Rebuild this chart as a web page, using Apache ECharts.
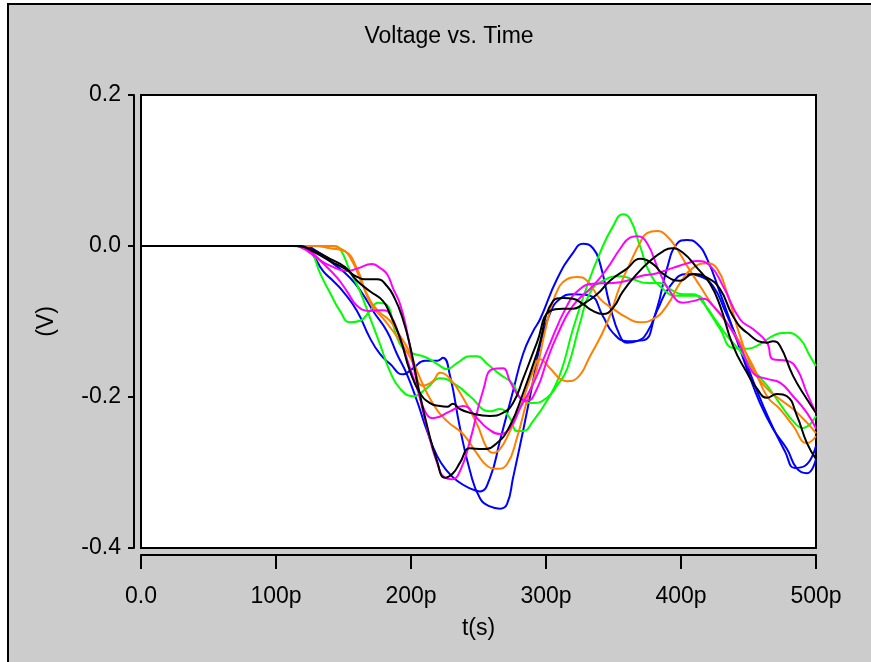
<!DOCTYPE html>
<html>
<head>
<meta charset="utf-8">
<script src="https://cdn.jsdelivr.net/npm/echarts@6/dist/echarts.min.js"></script>
<style>
html,body{margin:0;padding:0;background:#ffffff;}
#chart{width:871px;height:662px;}
</style>
</head>
<body>
<div id="chart"></div>
<script>
// Time axis (ps) and voltage (V)
const xTicks = [0, 100, 200, 300, 400, 500];
const yTicks = [-0.4, -0.2, 0.0, 0.2];

const blueA = [[0,0],[117,0],[125.2,-0.007],[134.8,-0.033],[142.2,-0.046],[149.6,-0.060],[160,-0.086],[169.6,-0.122],[177,-0.143],[184.4,-0.156],[194.1,-0.170],[201.5,-0.162],[210.4,-0.152],[219.3,-0.152],[223.7,-0.148],[228.9,-0.172],[236.3,-0.241],[243.7,-0.298],[251.1,-0.334],[258.5,-0.345],[265.9,-0.348],[271.1,-0.342],[275.6,-0.307],[283,-0.245],[290.4,-0.179],[295.6,-0.132],[303,-0.089],[310.4,-0.070],[320,-0.064],[332.6,-0.066],[342.2,-0.093],[349.6,-0.115],[360,-0.126],[371.9,-0.125],[382.2,-0.086],[391.9,-0.053],[404.4,-0.037],[414.1,-0.040],[423.7,-0.053],[432.6,-0.086],[443.7,-0.132],[454.8,-0.185],[465.9,-0.232],[477,-0.272],[484.4,-0.294],[491.9,-0.291],[500,-0.265]];
const blueB = [[0,0],[120,0],[130.4,-0.007],[142.2,-0.023],[154.8,-0.042],[164.4,-0.064],[171.9,-0.086],[182.2,-0.113],[189.6,-0.143],[197,-0.170],[204.4,-0.205],[211.9,-0.245],[219.3,-0.278],[226.7,-0.298],[234.1,-0.311],[243.7,-0.321],[251.1,-0.325],[258.5,-0.307],[265.9,-0.258],[275.6,-0.192],[283,-0.143],[290.4,-0.113],[295.6,-0.097],[308.1,-0.044],[320,-0.009],[327.4,0.003],[334.8,-0.003],[340,-0.023],[347.4,-0.079],[354.8,-0.119],[360,-0.128],[367.4,-0.126],[374.8,-0.115],[382.2,-0.083],[389.6,-0.030],[397,0.003],[404.4,0.008],[411.9,0.003],[419.3,-0.017],[428.9,-0.062],[438.5,-0.110],[448.9,-0.163],[458.5,-0.208],[468.1,-0.242],[478.5,-0.269],[485.9,-0.295],[493.3,-0.301],[500,-0.282]];
const greenA = [[0,0],[118,0],[121.5,-0.001],[126.7,-0.009],[132.6,-0.036],[140,-0.062],[147.4,-0.086],[154.8,-0.101],[162.2,-0.099],[169.6,-0.086],[175.6,-0.075],[182.2,-0.078],[188.1,-0.113],[194.1,-0.136],[200.7,-0.142],[210.4,-0.147],[219.3,-0.156],[226.7,-0.163],[234.1,-0.155],[243.7,-0.146],[248.9,-0.146],[256.3,-0.156],[265.9,-0.170],[275.6,-0.183],[280.7,-0.201],[290.4,-0.208],[300.7,-0.201],[308.1,-0.185],[315.6,-0.163],[325.2,-0.102],[332.6,-0.062],[342.2,-0.046],[354.8,-0.040],[364.4,-0.044],[374.8,-0.049],[384.4,-0.049],[391.9,-0.057],[401.5,-0.064],[408.9,-0.064],[416.3,-0.075],[423.7,-0.093],[434.1,-0.119],[443.7,-0.139],[453.3,-0.163],[463.7,-0.185],[473.3,-0.209],[483,-0.232],[490.4,-0.241],[500,-0.225]];
const greenB = [[0,0],[128,0],[142.2,0],[147.4,-0.004],[154.8,-0.033],[162.2,-0.060],[169.6,-0.095],[177,-0.130],[184.4,-0.166],[191.9,-0.189],[201.5,-0.199],[211.9,-0.188],[221.5,-0.175],[234.1,-0.185],[243.7,-0.199],[258.5,-0.219],[265.9,-0.216],[273.3,-0.228],[278.5,-0.245],[283,-0.245],[290.4,-0.232],[300.7,-0.205],[310.4,-0.170],[320,-0.110],[330.4,-0.053],[340,-0.009],[349.6,0.026],[357,0.042],[362.2,0.036],[369.6,0.000],[377,-0.036],[386.7,-0.057],[397,-0.066],[411.9,-0.066],[419.3,-0.083],[428.9,-0.110],[438.5,-0.135],[448.9,-0.136],[458.5,-0.130],[468.1,-0.119],[478.5,-0.115],[488.1,-0.123],[495.6,-0.146],[500,-0.159]];
const orangeA = [[0,0],[140,0],[147.4,-0.003],[154.8,-0.015],[164.4,-0.053],[171.1,-0.079],[180.7,-0.099],[191.9,-0.126],[200.7,-0.152],[208.9,-0.185],[216.3,-0.179],[221.5,-0.168],[228.9,-0.176],[238.5,-0.201],[248.9,-0.236],[256.3,-0.268],[260.7,-0.274],[265.9,-0.269],[273.3,-0.245],[280.7,-0.215],[290.4,-0.166],[295.6,-0.150],[303,-0.162],[310.4,-0.176],[315.6,-0.179],[323,-0.175],[332.6,-0.146],[345.2,-0.102],[354.8,-0.053],[362.2,-0.023],[369.6,0.004],[374.8,0.017],[382.2,0.020],[389.6,0.013],[397,-0.004],[404.4,-0.026],[414.1,-0.053],[423.7,-0.079],[434.1,-0.102],[443.7,-0.128],[453.3,-0.159],[463.7,-0.199],[473.3,-0.216],[483,-0.238],[493.3,-0.261],[500,-0.252]];
const orangeB = [[0,0],[128,0],[140,-0.003],[151.1,-0.007],[160,-0.030],[167.4,-0.064],[175.6,-0.086],[184.4,-0.099],[191.9,-0.119],[199.3,-0.142],[206.7,-0.175],[216.3,-0.209],[226.7,-0.232],[238.5,-0.249],[248.9,-0.275],[256.3,-0.291],[263.7,-0.295],[271.1,-0.289],[278.5,-0.254],[285.9,-0.205],[293.3,-0.162],[299.3,-0.113],[306.7,-0.066],[315.6,-0.044],[323,-0.041],[330.4,-0.046],[340,-0.070],[349.6,-0.083],[360,-0.095],[369.6,-0.101],[379.3,-0.097],[389.6,-0.079],[399.3,-0.049],[408.9,-0.029],[419.3,-0.023],[426.7,-0.030],[434.1,-0.062],[443.7,-0.119],[453.3,-0.163],[463.7,-0.189],[473.3,-0.203],[483,-0.216],[493.3,-0.234],[500,-0.248]];
const magentaA = [[0,0],[112,0],[120,-0.003],[130.4,-0.016],[140,-0.026],[152.6,-0.033],[160,-0.030],[171.1,-0.024],[177,-0.029],[182.2,-0.037],[186.7,-0.056],[191.9,-0.077],[197,-0.113],[201.5,-0.156],[206.7,-0.201],[211.9,-0.241],[219.3,-0.287],[225.2,-0.307],[230.4,-0.309],[236.3,-0.298],[243.7,-0.258],[253.3,-0.192],[260.7,-0.163],[268.1,-0.162],[273.3,-0.179],[280.7,-0.201],[285.9,-0.205],[293.3,-0.189],[300.7,-0.152],[308.1,-0.119],[320,-0.079],[334.8,-0.053],[345.2,-0.030],[354.8,-0.004],[362.2,0.011],[367.4,0.013],[374.8,0.004],[384.4,-0.036],[394.1,-0.066],[401.5,-0.075],[408.9,-0.073],[416.3,-0.070],[423.7,-0.079],[434.1,-0.102],[443.7,-0.132],[453.3,-0.168],[463.7,-0.176],[473.3,-0.181],[483,-0.199],[493.3,-0.221],[500,-0.242]];
const magentaB = [[0,0],[116,0],[125.2,-0.007],[134.8,-0.023],[145.2,-0.042],[152.6,-0.060],[160,-0.079],[169.6,-0.086],[179.3,-0.085],[184.4,-0.090],[191.9,-0.122],[199.3,-0.162],[204.4,-0.188],[210.4,-0.219],[216.3,-0.228],[228.9,-0.219],[238.5,-0.212],[248.9,-0.228],[256.3,-0.241],[265.9,-0.249],[273.3,-0.241],[280.7,-0.215],[290.4,-0.183],[300.7,-0.139],[315.6,-0.079],[325.2,-0.057],[334.8,-0.050],[349.6,-0.049],[360,-0.046],[369.6,-0.040],[382.2,-0.036],[394.1,-0.029],[404.4,-0.023],[411.9,-0.020],[421.5,-0.026],[431.1,-0.053],[443.7,-0.097],[453.3,-0.110],[463.7,-0.128],[468.1,-0.150],[478.5,-0.152],[485.9,-0.163],[493.3,-0.195],[500,-0.221]];
const blackA = [[0,0],[115,0],[125.2,-0.004],[140,-0.017],[151.1,-0.028],[160,-0.046],[169.6,-0.060],[179.3,-0.073],[184.4,-0.090],[191.9,-0.122],[199.3,-0.166],[206.7,-0.195],[214.1,-0.208],[221.5,-0.212],[226.7,-0.213],[231.1,-0.209],[236.3,-0.216],[243.7,-0.221],[258.5,-0.225],[268.1,-0.221],[275.6,-0.208],[283,-0.176],[293.3,-0.128],[303,-0.086],[312.6,-0.083],[320,-0.083],[327.4,-0.077],[337.8,-0.064],[347.4,-0.046],[360,-0.030],[369.6,-0.017],[379.3,-0.024],[386.7,-0.037],[399.3,-0.046],[408.9,-0.037],[419.3,-0.042],[428.9,-0.057],[438.5,-0.093],[448.9,-0.115],[463.7,-0.128],[468.1,-0.126],[473.3,-0.132],[483,-0.172],[493.3,-0.203],[500,-0.221]];
const blackB = [[0,0],[118,0],[125.2,-0.005],[140,-0.020],[151.1,-0.030],[160,-0.041],[167.4,-0.044],[174.8,-0.044],[182.2,-0.053],[188.1,-0.070],[193.3,-0.093],[199.3,-0.132],[205.2,-0.185],[211.9,-0.238],[219.3,-0.285],[225.2,-0.307],[231.1,-0.301],[236.3,-0.287],[243.7,-0.268],[253.3,-0.269],[263.7,-0.261],[273.3,-0.238],[283,-0.195],[293.3,-0.142],[305.2,-0.073],[312.6,-0.069],[320,-0.070],[327.4,-0.077],[334.8,-0.086],[342.2,-0.090],[349.6,-0.082],[357,-0.060],[367.4,-0.037],[377,-0.020],[386.7,-0.007],[393.3,-0.003],[401.5,-0.009],[411.9,-0.029],[421.5,-0.050],[428.9,-0.079],[438.5,-0.132],[448.9,-0.168],[456.3,-0.189],[463.7,-0.201],[471.1,-0.196],[478.5,-0.199],[485.9,-0.225],[493.3,-0.261],[500,-0.282]];

const seriesDefs = [
  ['blueA', blueA, '#0000ff'],
  ['blueB', blueB, '#0000ff'],
  ['greenA', greenA, '#00ff00'],
  ['greenB', greenB, '#00ff00'],
  ['orangeA', orangeA, '#ff8000'],
  ['orangeB', orangeB, '#ff8000'],
  ['magentaA', magentaA, '#ff00ff'],
  ['magentaB', magentaB, '#ff00ff'],
  ['blackA', blackA, '#000000'],
  ['blackB', blackB, '#000000']
];

const FONT = "'Liberation Sans', Arial, Helvetica, sans-serif";
const chart = echarts.init(document.getElementById('chart'), null, {renderer: 'canvas'});

chart.setOption({
  animation: false,
  backgroundColor: '#ffffff',
  graphic: [{
    type: 'rect', z: -10, silent: true,
    shape: {x: 8, y: 4, width: 900, height: 700},
    style: {fill: '#cccccc', stroke: '#000000', lineWidth: 2}
  }],
  title: {
    text: 'Voltage vs. Time',
    left: 444, top: 20, textAlign: 'center',
    textStyle: {fontFamily: FONT, fontSize: 23, fontWeight: 'normal', color: '#000'}
  },
  grid: {
    left: 141, right: 55, top: 95, bottom: 114,
    show: true, backgroundColor: '#ffffff', borderColor: '#000000', borderWidth: 2,
    containLabel: false
  },
  xAxis: {
    type: 'value', min: xTicks[0], max: xTicks[xTicks.length - 1], interval: 100,
    offset: 7,
    name: 't(s)', nameLocation: 'middle', nameGap: 62,
    nameTextStyle: {fontFamily: FONT, fontSize: 23, color: '#000'},
    axisLine: {show: true, onZero: false, lineStyle: {color: '#000', width: 2}},
    axisTick: {show: true, length: 14, lineStyle: {color: '#000', width: 2}},
    axisLabel: {
      margin: 30, fontFamily: FONT, fontSize: 23, color: '#000',
      formatter: v => v === 0 ? '0.0' : v + 'p'
    },
    splitLine: {show: false}
  },
  yAxis: {
    type: 'value', min: yTicks[0], max: yTicks[yTicks.length - 1], interval: 0.2,
    offset: 7,
    name: '(V)', nameLocation: 'middle', nameGap: 76, nameRotate: 90,
    nameTextStyle: {fontFamily: FONT, fontSize: 23, color: '#000'},
    axisLine: {show: true, onZero: false, lineStyle: {color: '#000', width: 2}},
    axisTick: {show: true, length: 6, lineStyle: {color: '#000', width: 2}},
    axisLabel: {
      margin: 13, fontFamily: FONT, fontSize: 23, color: '#000',
      formatter: v => Math.abs(v) < 1e-9 ? '0.0' : v.toFixed(1)
    },
    splitLine: {show: false}
  },
  series: seriesDefs.map(([name, data, color]) => ({
    name: name, type: 'line', data: data,
    showSymbol: false, symbol: 'none',
    smooth: 0.5,
    clip: true,
    lineStyle: {color: color, width: 2},
    itemStyle: {color: color}
  }))
});
</script>
</body>
</html>
